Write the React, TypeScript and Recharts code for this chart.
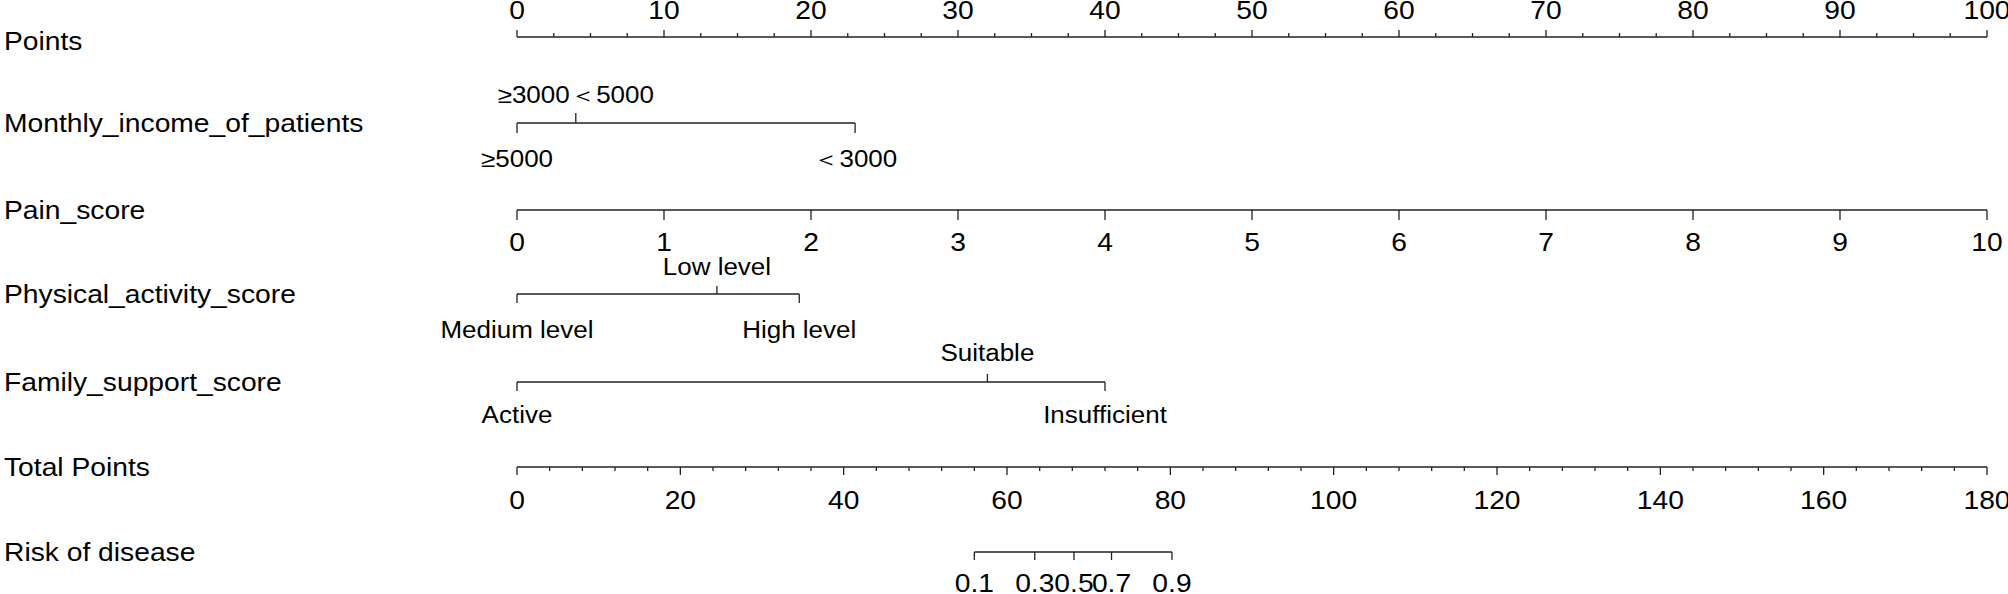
import React from "react";
import { ComposedChart, Line, Scatter, XAxis, YAxis } from "recharts";

// nomogram rows (top to bottom)
const rowNames = [
  "Points",
  "Monthly_income_of_patients",
  "Pain_score",
  "Physical_activity_score",
  "Family_support_score",
  "Total Points",
  "Risk of disease",
];

const pointsMajor = [0, 10, 20, 30, 40, 50, 60, 70, 80, 90, 100];
const pointsMinor = [
  2.5, 5, 7.5, 12.5, 15, 17.5, 22.5, 25, 27.5, 32.5, 35, 37.5, 42.5, 45, 47.5,
  52.5, 55, 57.5, 62.5, 65, 67.5, 72.5, 75, 77.5, 82.5, 85, 87.5, 92.5, 95, 97.5,
];

const incomeLabels = ["≥5000", "≥3000＜5000", "＜3000"];
const incomePoints = [0, 4, 23];

const painValues = ["0", "1", "2", "3", "4", "5", "6", "7", "8", "9", "10"];
const painPoints = [0, 10, 20, 30, 40, 50, 60, 70, 80, 90, 100];

const activityLabels = ["Medium level", "Low level", "High level"];
const activityPoints = [0, 13.6, 19.2];

const familyLabels = ["Active", "Suitable", "Insufficient"];
const familyPoints = [0, 32, 40];

const totalMajor = [0, 20, 40, 60, 80, 100, 120, 140, 160, 180];
const totalMinor = [
  4, 8, 12, 16, 24, 28, 32, 36, 44, 48, 52, 56, 64, 68, 72, 76, 84, 88, 92, 96,
  104, 108, 112, 116, 124, 128, 132, 136, 144, 148, 152, 156, 164, 168, 172, 176,
];

const riskLabels = ["0.1", "0.3", "0.5", "0.7", "0.9"];
const riskTotals = [56.0, 63.4, 68.2, 72.8, 80.2];

// layout
const W = 2008;
const H = 594;
const rowY = [37, 123, 210, 294, 382, 467, 552];
const FONT = "'Liberation Sans', Arial, sans-serif";
const FS = 25;
const STRETCH = 1.13;
const INK = "#000";
const LINE = "#222";

const pts = (xs: number[], y: number, labels?: string[]) =>
  xs.map((x, i) => ({ x, y, label: labels ? labels[i] : String(x) }));

const seg = (a: number, b: number, y: number) => [
  { x: a, y },
  { x: b, y },
];

const Txt = ({ x, y, anchor = "middle", size = FS, children }: any) => (
  <text
    transform={`translate(${x},${y}) scale(${STRETCH},1)`}
    textAnchor={anchor}
    dominantBaseline="central"
    fontFamily={FONT}
    fontSize={size}
    fill={INK}
  >
    {children}
  </text>
);

const tickShape =
  (dir: number, len: number, gap: number, label = true, size = FS) =>
  (props: any) => {
    const { cx, cy, payload } = props;
    if (cx == null || cy == null) return <g />;
    return (
      <g>
        <line x1={cx} y1={cy} x2={cx} y2={cy + dir * len} stroke={LINE} strokeWidth={1.3} />
        {label && (
          <Txt x={cx} y={cy + dir * gap} size={size}>
            {payload.label}
          </Txt>
        )}
      </g>
    );
  };

const above = (_: any, i: number) => i === 1;
const below = (_: any, i: number) => i !== 1;
const CAT = 23;

const RowName = (p: any) => {
  const i = rowY.indexOf(p.payload.value);
  return (
    <Txt x={4} y={p.y + (i === 0 ? 5 : 1)} anchor="start">
      {rowNames[i]}
    </Txt>
  );
};

export default function App() {
  const income = pts(incomePoints, rowY[1], incomeLabels);
  const activity = pts(activityPoints, rowY[3], activityLabels);
  const family = pts(familyPoints, rowY[4], familyLabels);
  const common = { xAxisId: "pts", yAxisId: "row", isAnimationActive: false } as const;
  const lineProps = { dataKey: "y", stroke: LINE, strokeWidth: 1.3, dot: false, activeDot: false, type: "linear" as const };

  return (
    <div style={{ position: "absolute", left: 0, top: 0, width: W, height: H, background: "#fff" }}>
      <ComposedChart width={W} height={H} margin={{ top: 0, right: 21, bottom: 0, left: 0 }}>
        <XAxis xAxisId="pts" dataKey="x" type="number" domain={[0, 100]} hide />
        <XAxis xAxisId="tot" dataKey="x" type="number" domain={[0, 180]} hide />
        <YAxis
          yAxisId="row"
          dataKey="y"
          type="number"
          domain={[0, H]}
          reversed
          width={517}
          ticks={rowY}
          interval={0}
          axisLine={false}
          tickLine={false}
          tick={RowName}
        />

        {/* Points */}
        <Line {...common} {...lineProps} data={seg(0, 100, rowY[0])} />
        <Scatter {...common} data={pts(pointsMajor, rowY[0])} shape={tickShape(-1, 7, 26)} />
        <Scatter {...common} data={pts(pointsMinor, rowY[0])} shape={tickShape(-1, 4, 0, false)} />

        {/* Monthly income */}
        <Line {...common} {...lineProps} data={seg(0, 23, rowY[1])} />
        <Scatter {...common} data={income.filter(above)} shape={tickShape(-1, 10, 28, true, CAT)} />
        <Scatter {...common} data={income.filter(below)} shape={tickShape(1, 10, 36, true, CAT)} />

        {/* Pain score */}
        <Line {...common} {...lineProps} data={seg(0, 100, rowY[2])} />
        <Scatter {...common} data={pts(painPoints, rowY[2], painValues)} shape={tickShape(1, 10, 33)} />

        {/* Physical activity */}
        <Line {...common} {...lineProps} data={seg(0, 19.2, rowY[3])} />
        <Scatter {...common} data={activity.filter(above)} shape={tickShape(-1, 8, 27, true, CAT)} />
        <Scatter {...common} data={activity.filter(below)} shape={tickShape(1, 9, 36, true, CAT)} />

        {/* Family support */}
        <Line {...common} {...lineProps} data={seg(0, 40, rowY[4])} />
        <Scatter {...common} data={family.filter(above)} shape={tickShape(-1, 8, 29, true, CAT)} />
        <Scatter {...common} data={family.filter(below)} shape={tickShape(1, 9, 33, true, CAT)} />

        {/* Total points */}
        <Line {...common} {...lineProps} xAxisId="tot" data={seg(0, 180, rowY[5])} />
        <Scatter {...common} xAxisId="tot" data={pts(totalMajor, rowY[5])} shape={tickShape(1, 8, 34)} />
        <Scatter {...common} xAxisId="tot" data={pts(totalMinor, rowY[5])} shape={tickShape(1, 4, 0, false)} />

        {/* Risk */}
        <Line {...common} {...lineProps} xAxisId="tot" data={seg(56.0, 80.2, rowY[6])} />
        <Scatter
          {...common}
          xAxisId="tot"
          data={pts(riskTotals, rowY[6], riskLabels)}
          shape={tickShape(1, 8, 32)}
        />
      </ComposedChart>
    </div>
  );
}
